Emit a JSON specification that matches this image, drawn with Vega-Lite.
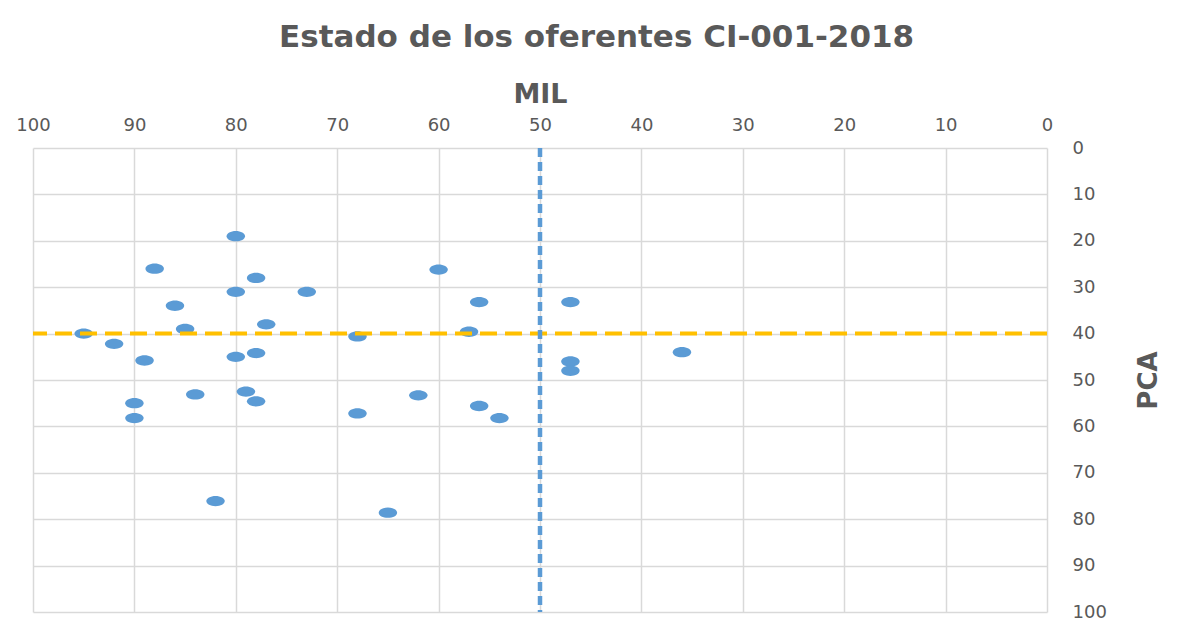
{
  "$schema": "https://vega.github.io/schema/vega-lite/v6.json",
  "autosize": {"type": "none"},
  "width": 1014,
  "height": 464,
  "padding": {"left": 33, "top": 148, "right": 130, "bottom": 17},
  "background": "white",
  "title": {
    "text": "Estado de los oferentes CI-001-2018",
    "font": "DejaVu Sans",
    "fontSize": 31,
    "fontWeight": "bold",
    "color": "#595959",
    "anchor": "middle",
    "frame": "bounds",
    "offset": 26,
    "dx": 8
  },
  "config": {
    "view": {"stroke": null},
    "axis": {
      "labelFont": "DejaVu Sans",
      "labelFontSize": 18,
      "labelColor": "#595959",
      "titleFont": "DejaVu Sans",
      "titleFontWeight": "bold",
      "titleColor": "#595959",
      "ticks": false,
      "domain": false,
      "gridColor": "#D9D9D9",
      "gridWidth": 1.5
    }
  },
  "layer": [
    {
      "data": {
        "values": [
          {"MIL": 80, "PCA": 19},
          {"MIL": 88, "PCA": 26},
          {"MIL": 78, "PCA": 28},
          {"MIL": 80, "PCA": 31},
          {"MIL": 73, "PCA": 31},
          {"MIL": 86, "PCA": 34},
          {"MIL": 85, "PCA": 39},
          {"MIL": 77, "PCA": 38},
          {"MIL": 95, "PCA": 40},
          {"MIL": 92, "PCA": 42.2},
          {"MIL": 89, "PCA": 45.8},
          {"MIL": 80, "PCA": 45},
          {"MIL": 78, "PCA": 44.2},
          {"MIL": 90, "PCA": 55},
          {"MIL": 90, "PCA": 58.2},
          {"MIL": 84, "PCA": 53.1},
          {"MIL": 79, "PCA": 52.5},
          {"MIL": 78, "PCA": 54.6},
          {"MIL": 82, "PCA": 76.1},
          {"MIL": 60, "PCA": 26.2},
          {"MIL": 56, "PCA": 33.2},
          {"MIL": 57, "PCA": 39.6},
          {"MIL": 68, "PCA": 40.6},
          {"MIL": 68, "PCA": 57.2},
          {"MIL": 62, "PCA": 53.3},
          {"MIL": 56, "PCA": 55.6},
          {"MIL": 54, "PCA": 58.2},
          {"MIL": 65, "PCA": 78.6},
          {"MIL": 47, "PCA": 33.2},
          {"MIL": 47, "PCA": 46},
          {"MIL": 47, "PCA": 48},
          {"MIL": 36, "PCA": 44}
        ]
      },
      "mark": {
        "type": "point",
        "filled": true,
        "opacity": 1,
        "color": "#5B9BD5",
        "size": 340,
        "shape": "M-1,0A1,0.56,0,1,0,1,0A1,0.56,0,1,0,-1,0Z"
      },
      "encoding": {
        "x": {
          "field": "MIL",
          "type": "quantitative",
          "scale": {"domain": [0, 100], "reverse": true, "nice": false, "zero": false},
          "axis": {
            "orient": "top",
            "values": [0, 10, 20, 30, 40, 50, 60, 70, 80, 90, 100],
            "labelPadding": 14,
            "labelFlush": false,
            "title": "MIL",
            "titleFontSize": 27,
            "titlePadding": 8
          }
        },
        "y": {
          "field": "PCA",
          "type": "quantitative",
          "scale": {"domain": [0, 100], "reverse": true, "nice": false, "zero": false},
          "axis": {
            "orient": "right",
            "values": [0, 10, 20, 30, 40, 50, 60, 70, 80, 90, 100],
            "labelPadding": 25,
            "labelFlush": false,
            "title": "PCA",
            "titleFontSize": 26,
            "titleAngle": 270,
            "titlePadding": 55
          }
        }
      }
    },
    {
      "data": {"values": [{"PCA": 40}]},
      "mark": {"type": "rule", "color": "#FFC000", "strokeWidth": 4, "strokeDash": [17, 8]},
      "encoding": {"y": {"field": "PCA", "type": "quantitative"}}
    },
    {
      "data": {"values": [{"MIL": 50}]},
      "mark": {"type": "rule", "color": "#5B9BD5", "strokeWidth": 4.5, "strokeDash": [9, 5]},
      "encoding": {"x": {"field": "MIL", "type": "quantitative"}}
    }
  ]
}
